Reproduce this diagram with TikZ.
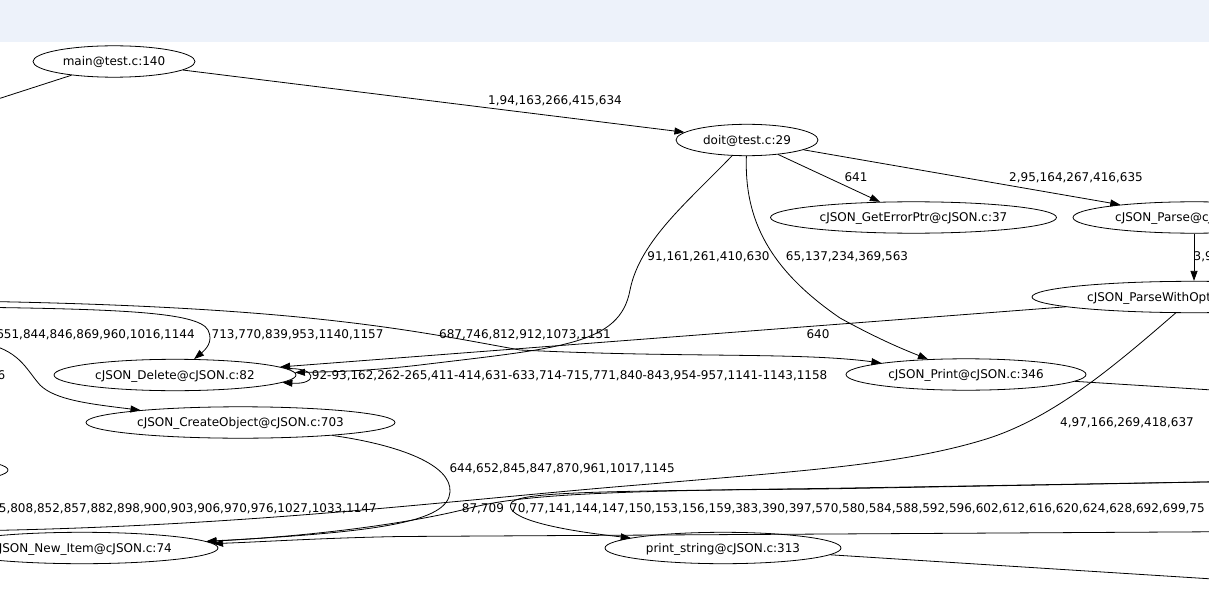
\documentclass[tikz,border=0pt]{standalone}
\usepackage{fontspec}
\setmainfont{DejaVu Sans}
\usetikzlibrary{arrows.meta,shapes.geometric}
\definecolor{band}{RGB}{237,242,250}
\begin{document}
\begin{tikzpicture}[x=1pt,y=-1pt,
  fn/.style={draw=black, line width=0.8pt, ellipse, inner sep=0pt, minimum height=31.4pt,
    font=\fontsize{12}{14}\selectfont, text height=8.6pt, text depth=0pt},
  lbl/.style={inner sep=0pt, font=\fontsize{12}{14}\selectfont, text height=8.6pt, text depth=0pt},
  edge/.style={draw=black, line width=0.8pt, -{Triangle[length=10pt,width=7pt]}},
  tail/.style={draw=black, line width=0.8pt}]
\useasboundingbox (0,0) rectangle (1209,596);
\clip (0,0) rectangle (1209,596);
\fill[band] (0,0) rectangle (1209,42);

% nodes
\node[fn, minimum width=162pt] (main) at (114,61.5) {main@test.c:140};
\node[fn, minimum width=142pt] (doit) at (747,140) {doit@test.c:29};
\node[fn, minimum width=286pt] (gep) at (913.5,217.5) {cJSON\_GetErrorPtr@cJSON.c:37};
\node[fn, minimum width=242pt] (parse) at (1194,217.5) {};
\node[lbl, anchor=west] (parset) at (1115,217.5) {cJSON\_Parse@cJSON};
\node[fn, minimum width=324pt] (pwo) at (1194,297) {};
\node[lbl, anchor=west] (pwot) at (1087,297) {cJSON\_ParseWithOpts};
\node[fn, minimum width=242pt] (del) at (175,375) {cJSON\_Delete@cJSON.c:82};
\node[fn, minimum width=309pt] (cobj) at (240.5,422.5) {cJSON\_CreateObject@cJSON.c:703};
\node[fn, minimum width=240pt] (print) at (966,374.5) {cJSON\_Print@cJSON.c:346};
\node[fn, minimum width=272pt] (newitem) at (82,548) {cJSON\_New\_Item@cJSON.c:74};
\node[fn, minimum width=236pt] (pstr) at (723,548) {print\_string@cJSON.c:313};
\node[fn, minimum width=260pt] (leftn) at (-122,470) {};

% free ends
\coordinate (mainL) at (-60,117.7);
\coordinate (L1) at (-40,301);
\coordinate (L2) at (-40,307);
\coordinate (L3) at (-20,342);
\coordinate (L4) at (-40,531);
\coordinate (R1) at (1260,481);
\coordinate (R2) at (1260,531.5);
\coordinate (Rp) at (1300,395.5);
\coordinate (Rs) at (1300,584.5);

% edges
\draw[edge] (main) -- (doit);
\draw[tail] (main) -- (mainL);
\draw[edge] (doit) -- (gep);
\draw[edge] (doit) -- (parse);
\draw[edge] (parse) -- (pwo);
\draw[edge] (pwo) -- (del);
\draw[edge] (doit) .. controls (690,200) and (640,240) .. (630,290)
  .. controls (620,345) and (560,348) .. (420,365)
  .. controls (360,372) and (320,372) .. (del);
\draw[edge] (doit) .. controls (744,220) and (770,270) .. (840,318)
  .. controls (880,340) and (905,350) .. (print);
\draw[edge] (del) .. controls (318,367) and (318,385) .. (del);
\draw[edge] (L1) .. controls (300,306) and (410,330) .. (520,350)
  .. controls (680,358) and (800,352) .. (print);
\draw[edge] (L2) .. controls (120,309) and (198,312) .. (208,330)
  .. controls (214,342) and (205,350) .. (del);
\draw[edge] (L3) .. controls (20,350) and (25,368) .. (40,385)
  .. controls (55,400) and (90,404) .. (cobj);
\draw[edge] (cobj) .. controls (400,445) and (452,465) .. (450,492)
  .. controls (448,522) and (380,532) .. (newitem);
\draw[tail] (pwo) .. controls (1110,370) and (1050,420) .. (983,440)
  .. controls (900,465) and (800,471) .. (650,484)
  .. controls (450,500) and (250,527) .. (L4);
\draw[edge] (R1) -- (820,488.5) .. controls (600,491) and (520,495) .. (470,508)
  .. controls (420,521) and (330,535) .. (newitem);
\draw[edge] (R1) -- (820,489) .. controls (600,491) and (525,492) .. (512,502)
  .. controls (502,515) and (540,528) .. (pstr);
\draw[edge] (R2) -- (400,536.5) .. controls (320,538) and (260,542) .. (newitem);
\draw[tail] (print) -- (Rp);
\draw[tail] (pstr) -- (Rs);

% labels
\node[lbl] (l1) at (555,100) {1,94,163,266,415,634};
\node[lbl] (l2) at (856,177.7) {641};
\node[lbl] (l3) at (1076,177.7) {2,95,164,267,416,635};
\node[lbl, anchor=west] (l4) at (1193.5,256.5) {3,96,165,268,417,636};
\node[lbl] (l5) at (708.5,256.5) {91,161,261,410,630};
\node[lbl] (l6) at (847,256.5) {65,137,234,369,563};
\node[lbl] (l7) at (818,334) {640};
\node[lbl] (l8) at (525,334) {687,746,812,912,1073,1151};
\node[lbl] (l9) at (297.6,334) {713,770,839,953,1140,1157};
\node[lbl, anchor=east] (l10) at (195,334) {651,844,846,869,960,1016,1144};
\node[lbl, anchor=east] (l11) at (5.5,375) {6};
\node[lbl, anchor=west] (l12) at (311.7,375) {92-93,162,262-265,411-414,631-633,714-715,771,840-843,954-957,1141-1143,1158};
\node[lbl] (l13) at (1127,422) {4,97,166,269,418,637};
\node[lbl, anchor=west] (l14) at (449.3,468.3) {644,652,845,847,870,961,1017,1145};
\node[lbl, anchor=east] (l15) at (377,508.3) {5,808,852,857,882,898,900,903,906,970,976,1027,1033,1147};
\node[lbl, anchor=west] (l16) at (461.7,508.3) {87,709};
\node[lbl, anchor=west] (l17) at (510,508.3) {70,77,141,144,147,150,153,156,159,383,390,397,570,580,584,588,592,596,602,612,616,620,624,628,692,699,75};
\end{tikzpicture}
\end{document}
